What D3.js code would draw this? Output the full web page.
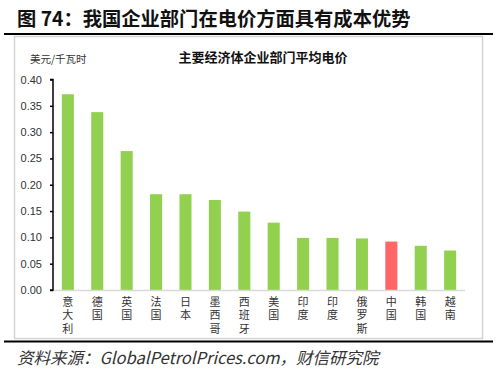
<!DOCTYPE html>
<html><head><meta charset="utf-8">
<script src="https://cdn.jsdelivr.net/npm/d3@7"></script>
<style>
body{margin:0;background:#fff;}
svg{display:block;}
</style></head>
<body>
<svg id="c" width="500" height="373"></svg>
<script>
const categories = ["意大利","德国","英国","法国","日本","墨西哥","西班牙","美国","印度","印度","俄罗斯","中国","韩国","越南"];
const values = [0.372,0.338,0.264,0.182,0.182,0.171,0.149,0.128,0.099,0.099,0.098,0.092,0.084,0.075];
const highlight = ["中国"];
const yTicks = [0,0.05,0.10,0.15,0.20,0.25,0.30,0.35,0.40];

const svg = d3.select("#c");
const cjk = "'Noto Sans CJK SC', sans-serif";

// header
svg.append("text").attr("x",17).attr("y",26)
  .attr("font-family",cjk).attr("font-weight","bold").attr("font-size",19.3)
  .attr("fill","#111").text("图 74：我国企业部门在电价方面具有成本优势");
svg.append("line").attr("x1",4).attr("x2",493).attr("y1",34).attr("y2",34)
  .attr("stroke","#000").attr("stroke-width",2.2);

// chart box
svg.append("rect").attr("x",14.5).attr("y",36.5).attr("width",468).attr("height",302)
  .attr("fill","#fff").attr("stroke","#d4d4d4").attr("stroke-width",1.5);

svg.append("line").attr("x1",4).attr("x2",493).attr("y1",341.5).attr("y2",341.5)
  .attr("stroke","#000").attr("stroke-width",2.2);

svg.append("text").attr("x",17).attr("y",364)
  .attr("font-family","'Noto Sans CJK SC', serif").attr("font-style","italic").attr("font-size",16.5)
  .attr("fill","#333").text("资料来源：GlobalPetrolPrices.com，财信研究院");

// titles
svg.append("text").attr("x",263).attr("y",62).attr("text-anchor","middle")
  .attr("font-family",cjk).attr("font-weight","bold").attr("font-size",13)
  .attr("fill","#111").text("主要经济体企业部门平均电价");
svg.append("text").attr("x",30).attr("y",63)
  .attr("font-family",cjk).attr("font-size",10.5)
  .attr("fill","#333").text("美元/千瓦时");

const x = d3.scaleBand().domain(d3.range(categories.length)).range([53,465]).paddingInner(0.59).paddingOuter(0.3);
const y = d3.scaleLinear().domain([0,0.40]).range([290,79.5]);

// bars
svg.append("g").selectAll("rect").data(values).join("rect")
  .attr("x",(d,i)=>x(i)).attr("width",x.bandwidth())
  .attr("y",d=>y(d)).attr("height",d=>y(0)-y(d))
  .attr("fill",(d,i)=>highlight.includes(categories[i])?"#FF6666":"#92D050");

// x axis line
svg.append("line").attr("x1",53).attr("x2",465).attr("y1",y(0)+0.5).attr("y2",y(0)+0.5)
  .attr("stroke","#d9d9d9").attr("stroke-width",1.5);

// y axis
const ya = svg.append("g").attr("transform","translate(53,0)")
  .call(d3.axisLeft(y).tickValues(yTicks).tickFormat(d3.format(".2f")).tickSize(3).tickPadding(8));
ya.select(".domain").attr("stroke","#000").attr("stroke-width",1.5).attr("d","M-3,"+y(0.40)+"H0V"+y(0)+"H-3");
ya.selectAll(".tick line").attr("stroke","#000").attr("stroke-width",1.5);
ya.selectAll(".tick text").attr("font-family","'Liberation Sans', Arial, sans-serif").attr("font-size",11).attr("fill","#333");

// category labels (vertical text)
svg.append("g").selectAll("text").data(categories).join("text")
  .attr("x",(d,i)=>x(i)+x.bandwidth()/2).attr("y",296)
  .style("writing-mode","vertical-rl")
  .attr("letter-spacing",2.5)
  .attr("font-family",cjk).attr("font-size",11).attr("fill","#333")
  .text(d=>d);
</script>
</body></html>
